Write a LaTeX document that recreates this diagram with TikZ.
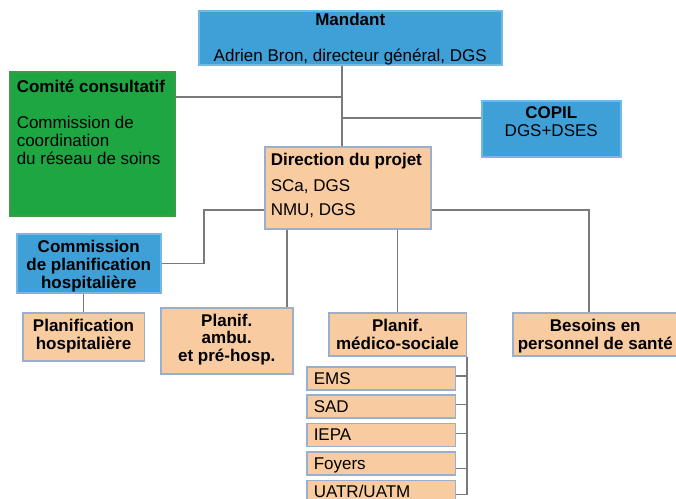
\documentclass[tikz,border=0pt]{standalone}
\usepackage{fontspec}
\setmainfont{Liberation Sans}
\definecolor{cblue}{HTML}{3FA0D8}
\definecolor{bblue}{HTML}{74B8E4}
\definecolor{cgreen}{HTML}{1EA643}
\definecolor{bgreen}{HTML}{3C9A48}
\definecolor{corange}{HTML}{F9CBA0}
\definecolor{borange}{HTML}{9AAFCB}
\definecolor{cline}{HTML}{7A7A7A}
\newcommand{\mkcbox}[4]{\parbox[c][#2][t]{#1}{\centering\vspace*{#3}\strut #4}}
\newcommand{\mklbox}[5]{\parbox[c][#2][t]{#1}{\raggedright\leftskip=#4\relax\vspace*{#3}\strut #5}}
\tikzset{
  box/.style={line width=1.5pt, inner sep=0pt, anchor=north west, font=\fontsize{17}{18}\selectfont},
  bluebox/.style={box, fill=cblue, draw=bblue},
  greenbox/.style={box, fill=cgreen, draw=bgreen},
  orangebox/.style={box, fill=corange, draw=borange},
  conn/.style={draw=cline, line width=1.4pt}
}
\begin{document}
\begin{tikzpicture}[x=1pt, y=-1pt]
\useasboundingbox (0,0) rectangle (676,498);
\clip (0,0) rectangle (676,498);
\fill[white] (0,0) rectangle (676,498);

% coordinates for connector junctions
\coordinate (jA) at (342,97);
\coordinate (jB) at (342,118);
\coordinate (jC) at (204,210);
\coordinate (jD) at (589,210);
\coordinate (jE) at (287,0);

% connectors first (below boxes)
\node[bluebox] (mandant) at (198,10) {\mkcbox{303pt}{54pt}{2.4pt}{\textbf{Mandant}\\[18pt]Adrien Bron, directeur général, DGS}};
\node[greenbox] (comite) at (9,71) {\mklbox{165pt}{144pt}{7.9pt}{7pt}{\textbf{Comité consultatif}\\[18pt]Commission de\\coordination\\du réseau de soins}};
\node[bluebox] (copil) at (481,100) {\mkcbox{139pt}{56pt}{5.4pt}{\textbf{COPIL}\\DGS+DSES}};
\node[orangebox] (direction) at (264,146) {\mklbox{166pt}{82pt}{6.4pt}{6pt}{\textbf{Direction du projet}\\[7.5pt]SCa, DGS\\[6.5pt]NMU, DGS}};
\node[bluebox] (commission) at (16,233) {\mkcbox{144pt}{59pt}{6.1pt}{\bfseries Commission\\de planification\\hospitalière}};
\node[orangebox] (planhosp) at (22,312) {\mkcbox{121.5pt}{48pt}{6.4pt}{\bfseries Planification\\hospitalière}};
\node[orangebox] (ambu) at (160,307) {\mkcbox{132pt}{66pt}{6.4pt}{\bfseries Planif.\\[-1pt]ambu.\\[-0.5pt]et pré-hosp.}};
\node[orangebox] (medico) at (328,312) {\mkcbox{137.5pt}{43pt}{6.1pt}{\bfseries Planif.\\médico-sociale}};
\node[orangebox] (besoins) at (512,312) {\mkcbox{165pt}{43pt}{6.1pt}{\bfseries Besoins en\\personnel de santé}};

\node[orangebox] (ems) at (306,366) {\mklbox{148.5pt}{23pt}{4.7pt}{7pt}{EMS}};
\node[orangebox] (sad) at (306,394.4) {\mklbox{148.5pt}{23pt}{4.7pt}{7pt}{SAD}};
\node[orangebox] (iepa) at (306,422.8) {\mklbox{148.5pt}{23pt}{4.7pt}{7pt}{IEPA}};
\node[orangebox] (foyers) at (306,451.2) {\mklbox{148.5pt}{23pt}{4.7pt}{7pt}{Foyers}};
\node[orangebox] (uatr) at (306,479.6) {\mklbox{148.5pt}{23pt}{4.7pt}{7pt}{UATR/UATM}};

\draw[conn] (mandant.south -| jA) -- (direction.north -| jA);
\draw[conn] (comite.east |- jA) -- (jA);
\draw[conn] (jB) -- (copil.west |- jB);
\draw[conn] (direction.west |- jC) -- (jC) |- (commission.east);
\draw[conn] (direction.east |- jD) -- (jD) -- (jD |- besoins.north);
\draw[conn] (direction.south -| jE) -- (ambu.north -| jE);
\draw[conn] (direction.south -| medico.north) -- (medico.north);
\draw[conn] (commission.south -| planhosp.north) -- (planhosp.north);

\draw[conn] (medico.south east) |- ([yshift=2.2pt]ems.east);
\draw[conn] (medico.south east) |- ([yshift=1.9pt]sad.east);
\draw[conn] (medico.south east) |- ([yshift=1.6pt]iepa.east);
\draw[conn] (medico.south east) |- ([yshift=-5.3pt]foyers.east);
\draw[conn] (medico.south east) |- ([yshift=-2.4pt]uatr.east);
\end{tikzpicture}
\end{document}
